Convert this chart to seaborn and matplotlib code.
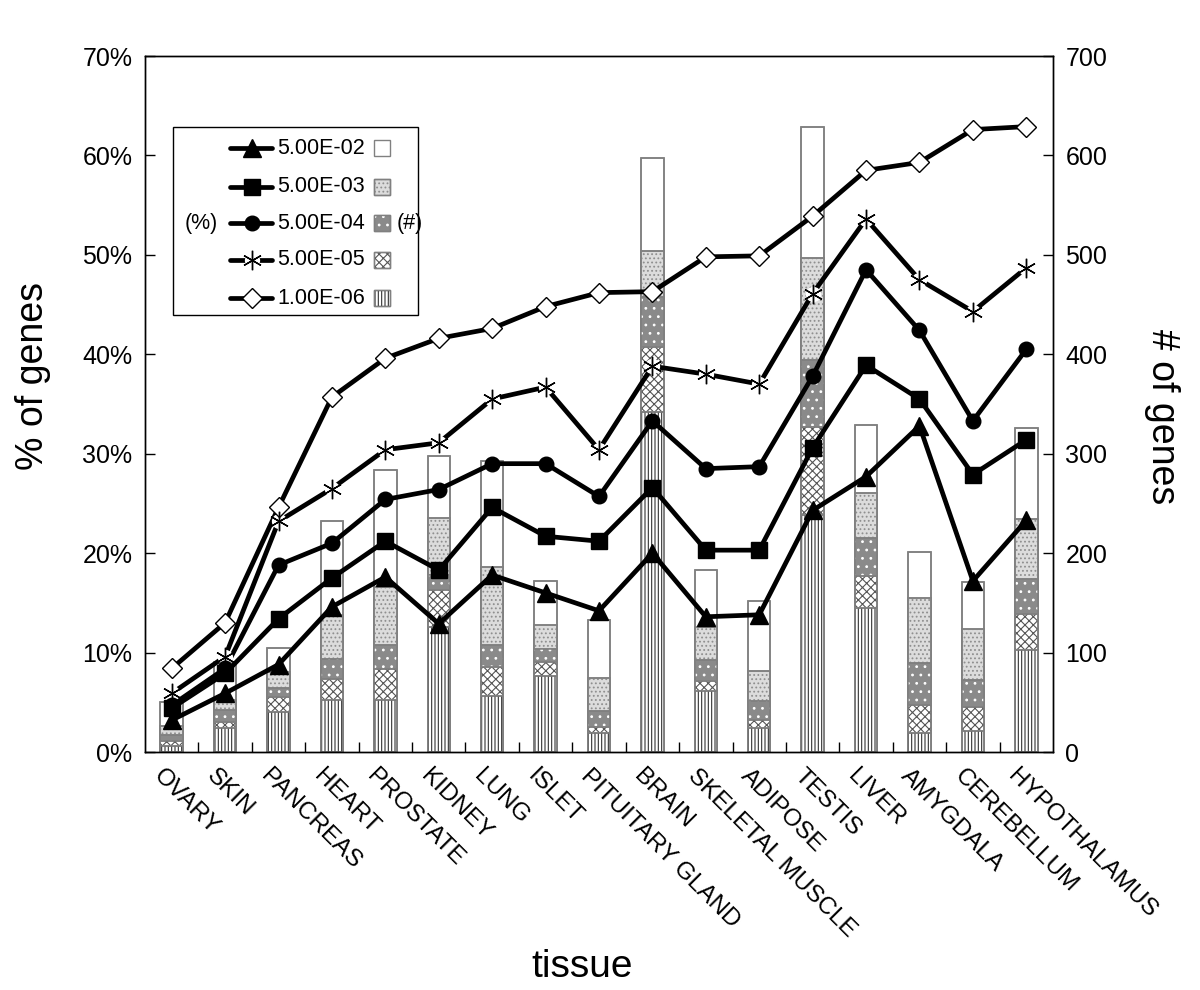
import numpy as np
import matplotlib
matplotlib.use("Agg")
import matplotlib.pyplot as plt
import matplotlib.transforms as mtransforms
from matplotlib.patches import Rectangle
from matplotlib.ticker import FuncFormatter
import seaborn as sns

sns.set_style("ticks")
plt.rcParams["font.family"] = ["Liberation Sans", "DejaVu Sans"]
plt.rcParams["hatch.linewidth"] = 0.8
for key in ("text.color", "axes.labelcolor", "xtick.color", "ytick.color"):
    plt.rcParams[key] = "black"

TISSUES = ["OVARY", "SKIN", "PANCREAS", "HEART", "PROSTATE", "KIDNEY", "LUNG",
           "ISLET", "PITUITARY GLAND", "BRAIN", "SKELETAL MUSCLE", "ADIPOSE",
           "TESTIS", "LIVER", "AMYGDALA", "CEREBELLUM", "HYPOTHALAMUS"]

THRESHOLDS = ["5.00E-02", "5.00E-03", "5.00E-04", "5.00E-05", "1.00E-06"]

# % of genes (lines, left axis)
PCT_5E02 = [3.2, 5.9, 8.8, 14.6, 17.6, 12.9, 17.8, 16.0, 14.2, 20.0, 13.6, 13.8, 24.3, 27.7, 32.8, 17.2, 23.3]
PCT_5E03 = [4.4, 7.9, 13.4, 17.5, 21.2, 18.3, 24.6, 21.7, 21.2, 26.6, 20.3, 20.3, 30.6, 38.9, 35.5, 27.9, 31.4]
PCT_5E04 = [4.7, 8.4, 18.8, 21.0, 25.4, 26.4, 29.0, 29.0, 25.7, 33.3, 28.5, 28.7, 37.8, 48.5, 42.4, 33.3, 40.5]
PCT_5E05 = [5.9, 9.6, 23.2, 26.5, 30.4, 31.1, 35.5, 36.7, 30.4, 38.8, 38.0, 37.0, 46.1, 53.6, 47.5, 44.3, 48.7]
PCT_1E06 = [8.4, 13.0, 24.6, 35.7, 39.6, 41.6, 42.6, 44.8, 46.2, 46.3, 49.8, 49.9, 53.9, 58.5, 59.3, 62.6, 62.9]

# # of genes (bars, right axis) - cumulative count at each threshold
N_5E02 = [50, 91, 105, 232, 284, 298, 293, 172, 133, 597, 183, 152, 629, 329, 201, 171, 326]
N_5E03 = [26, 52, 80, 138, 166, 235, 186, 128, 74, 504, 126, 81, 497, 260, 155, 124, 234]
N_5E04 = [17, 42, 64, 94, 108, 178, 108, 104, 41, 458, 93, 51, 394, 215, 90, 72, 174]
N_5E05 = [11, 30, 55, 73, 83, 163, 85, 91, 25, 407, 71, 32, 327, 177, 47, 45, 139]
N_1E06 = [6, 24, 40, 52, 52, 126, 56, 76, 19, 342, 61, 24, 238, 145, 19, 21, 103]

# (face colour, hatch, hatch colour) for each threshold's bar fill
BAR_STYLES = [
    ("white", None, None),
    ("#dcdcdc", "....", "#8f8f8f"),
    ("#8a8a8a", "..", "white"),
    ("white", "xxxx", "#555555"),
    ("white", "|||||", "#333333"),
]
# (marker, markersize, face colour) for each threshold's line
LINE_STYLES = [
    ("^", 13, "black"),
    ("s", 11, "black"),
    ("o", 10.5, "black"),
    ((6, 2, 0), 14, "none"),
    ("D", 10, "white"),
]
EDGE = "#808080"
BAR_WIDTH = 0.42

fig = plt.figure(figsize=(12, 9.9), dpi=100)
ax = fig.add_axes([145 / 1200, 1 - 752 / 990, 908 / 1200, 696 / 990])
ax2 = ax.twinx()
idx = np.arange(len(TISSUES))

# bars: draw largest cumulative count first, smaller ones in front
counts = [N_5E02, N_5E03, N_5E04, N_5E05, N_1E06]
for vals, (face, hatch, hcol) in zip(counts, BAR_STYLES):
    sns.barplot(x=TISSUES, y=vals, ax=ax2, color=face, saturation=1,
                width=BAR_WIDTH, edgecolor=EDGE, linewidth=1.1)
    if hatch:
        sns.barplot(x=TISSUES, y=vals, ax=ax2, color=hcol, fill=False,
                    width=BAR_WIDTH, hatch=hatch, linewidth=0)
        for p in ax2.containers[-1]:
            p.set_edgecolor(hcol)
            p.set_linewidth(0)
    # re-draw outline on top of the hatch
    sns.barplot(x=TISSUES, y=vals, ax=ax2, color=EDGE, fill=False,
                width=BAR_WIDTH, linewidth=1.1)

# lines: drawn bottom-up so the 5.00E-02 line ends on top
pcts = [PCT_5E02, PCT_5E03, PCT_5E04, PCT_5E05, PCT_1E06]
for i in range(4, -1, -1):
    marker, ms, mface = LINE_STYLES[i]
    sns.lineplot(x=idx, y=pcts[i], ax=ax, color="black", linewidth=3.4,
                 sort=False, zorder=3)
    if i == 3:
        # star marker sits in a gap of the line
        sns.lineplot(x=idx, y=pcts[i], ax=ax, linestyle="", marker="o",
                     markersize=11, markerfacecolor="white",
                     markeredgewidth=0, sort=False, zorder=3.1)
        sns.lineplot(x=idx, y=pcts[i], ax=ax, linestyle="", marker=marker,
                     markersize=ms, markeredgecolor="black",
                     markeredgewidth=1.0, sort=False, zorder=3.2)
    else:
        sns.lineplot(x=idx, y=pcts[i], ax=ax, linestyle="", marker=marker,
                     markersize=ms, markerfacecolor=mface,
                     markeredgecolor="black", markeredgewidth=1.0,
                     sort=False, zorder=3.2)

ax.set_zorder(2)
ax2.set_zorder(1)
ax.patch.set_visible(False)

# axes / ticks
ax.set_xlim(-0.5, len(TISSUES) - 0.5)
ax.set_ylim(0, 70)
ax2.set_ylim(0, 700)
ax.set_yticks(np.arange(0, 71, 10))
ax.yaxis.set_major_formatter(FuncFormatter(lambda v, _: f"{v:.0f}%"))
ax2.set_yticks(np.arange(0, 701, 100))
ax.set_xticks(idx)
ax.set_xticklabels(TISSUES, rotation=-45, ha="left", va="top",
                   rotation_mode="anchor", fontsize=17.5)
ax.set_xticks(np.arange(0.5, len(TISSUES) - 1, 1), minor=True)
ax.tick_params(axis="x", which="major", length=0, pad=9)
ax.tick_params(axis="x", which="minor", direction="in", length=7, width=1)
ax.tick_params(axis="y", direction="in", length=7, width=1, labelsize=18, pad=9)
ax2.tick_params(axis="y", direction="in", length=7, width=1, labelsize=18, pad=9)
ax.set_xlabel("")
ax.set_ylabel("")
ax2.set_ylabel("")
for a in (ax, ax2):
    for s in a.spines.values():
        s.set_color("black")
        s.set_linewidth(1)
offset = mtransforms.ScaledTranslation(-0.07, 0, fig.dpi_scale_trans)
for lbl in ax.get_xticklabels():
    lbl.set_transform(lbl.get_transform() + offset)

fig.text(33 / 1200, 1 - 376 / 990, "% of genes", rotation=90,
         ha="center", va="center", fontsize=27)
fig.text(1162 / 1200, 1 - 417 / 990, "# of genes", rotation=270,
         ha="center", va="center", fontsize=27)
fig.text(582 / 1200, 1 - 977 / 990, "tissue", ha="center",
         va="baseline", fontsize=28)

# legend box: line sample, label, bar swatch
box = Rectangle((0.031, 0.628), 0.270, 0.270, transform=ax.transAxes,
                facecolor="white", edgecolor="black", linewidth=1, zorder=5)
ax.add_patch(box)
row_y = [0.8674, 0.8122, 0.7596, 0.7069, 0.6519]
for k, label in enumerate(THRESHOLDS):
    y = row_y[k]
    marker, ms, mface = LINE_STYLES[k]
    ax.plot([0.0941, 0.1399], [y, y], transform=ax.transAxes, color="black",
            linewidth=3.4, zorder=6)
    if k == 3:
        ax.plot([0.1178], [y], transform=ax.transAxes, marker="o", ms=11,
                mfc="white", mew=0, zorder=6.1)
        ax.plot([0.1178], [y], transform=ax.transAxes, marker=marker, ms=ms,
                mec="black", mew=1.0, zorder=6.2)
    else:
        ax.plot([0.1178], [y], transform=ax.transAxes, marker=marker, ms=ms,
                mfc=mface, mec="black", mew=1.0, zorder=6.2)
    ax.text(0.1454, y, label, transform=ax.transAxes, fontsize=15.5,
            va="center", ha="left", zorder=6)
    face, hatch, hcol = BAR_STYLES[k]
    ax.add_patch(Rectangle((0.2522, y - 0.0115), 0.0176, 0.023,
                           transform=ax.transAxes, facecolor=face,
                           edgecolor=EDGE, linewidth=1, zorder=6))
    if hatch:
        ax.add_patch(Rectangle((0.2522, y - 0.0115), 0.0176, 0.023,
                               transform=ax.transAxes, facecolor="none",
                               edgecolor=hcol, hatch=hatch, linewidth=0,
                               zorder=6.1))
        ax.add_patch(Rectangle((0.2522, y - 0.0115), 0.0176, 0.023,
                               transform=ax.transAxes, facecolor="none",
                               edgecolor=EDGE, linewidth=1, zorder=6.2))
ax.text(0.0617, row_y[2], "(%)", transform=ax.transAxes, fontsize=15.5,
        va="center", ha="center", zorder=6)
ax.text(0.2775, row_y[2], "(#)", transform=ax.transAxes, fontsize=15.5,
        va="center", ha="left", zorder=6)

fig.savefig("out.png", dpi=100)
